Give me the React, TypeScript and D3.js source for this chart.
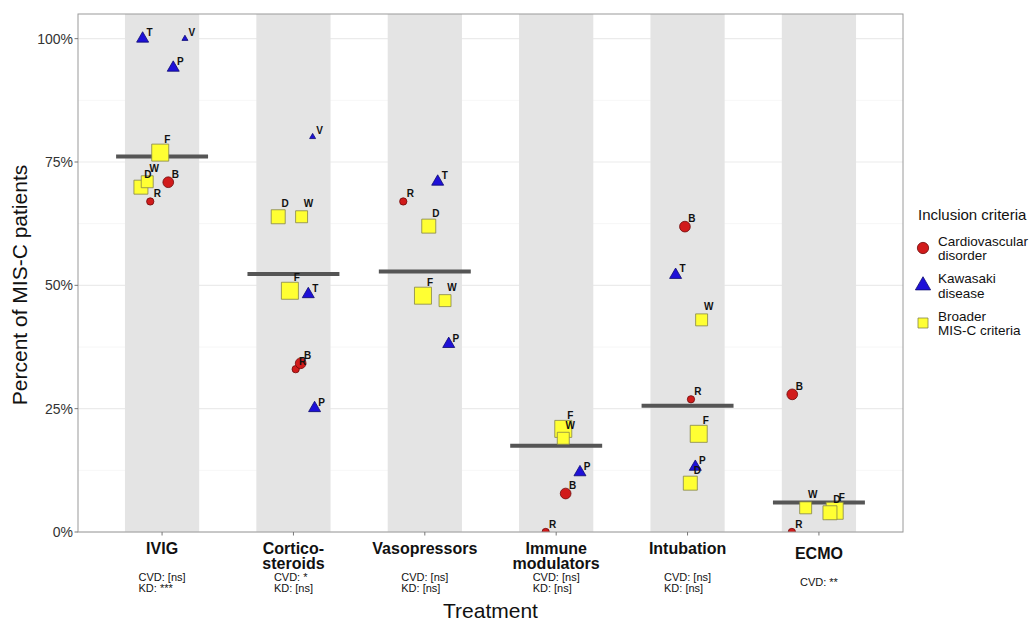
import React from "react";
import * as d3 from "d3";

// ---------- data ----------
const treatments = ["IVIG", "Corticosteroids", "Vasopressors", "Immune modulators", "Intubation", "ECMO"];
const treatmentLines = [["IVIG"], ["Cortico-", "steroids"], ["Vasopressors"], ["Immune", "modulators"], ["Intubation"], ["ECMO"]];
const testLines = [
  ["CVD: [ns]", "KD: ***"],
  ["CVD: *", "KD: [ns]"],
  ["CVD: [ns]", "KD: [ns]"],
  ["CVD: [ns]", "KD: [ns]"],
  ["CVD: [ns]", "KD: [ns]"],
  ["CVD: **"],
];
const pooledPercent = [76.1, 52.3, 52.8, 17.5, 25.6, 6.0];

const yTicks = [0, 25, 50, 75, 100];
const yMinorTicks = [12.5, 37.5, 62.5, 87.5];

const criteria = ["CVD", "KD", "Broader"];
const criteriaLabels = [["Cardiovascular", "disorder"], ["Kawasaki", "disease"], ["Broader", "MIS-C criteria"]];

const studyIds = ["F", "D", "W", "R", "B", "P", "T", "V"];
const studyCriteria = ["Broader", "Broader", "Broader", "CVD", "CVD", "KD", "KD", "KD"];
const studyPatients = [186, 126, 92, 27, 58, 40, 40, 10];

// percent of patients per treatment (order of `treatments`), null = not reported
const percentF = [76.9, 48.9, 47.9, 20.9, 19.9, 4.3];
const percentD = [69.9, 63.9, 62.0, null, 9.9, 3.9];
const percentW = [71.0, 63.9, 46.9, 19.0, 43.0, 4.9];
const percentR = [67.0, 33.0, 67.0, 0, 26.9, 0];
const percentB = [70.9, 34.2, null, 7.8, 61.9, 27.9];
const percentP = [94.1, 25.1, 38.1, 12.1, 13.2, null];
const percentT = [100, 48.2, 71.0, null, 52.1, null];
const percentV = [100, 80.1, null, null, null, null];
const percentByStudy = [percentF, percentD, percentW, percentR, percentB, percentP, percentT, percentV];

// horizontal jitter, in category steps
const jitterF = [-0.014, -0.027, -0.014, 0.054, 0.085, 0.12];
const jitterD = [-0.161, -0.116, 0.03, 0, 0.021, 0.084];
const jitterW = [-0.113, 0.062, 0.154, 0.054, 0.107, -0.101];
const jitterR = [-0.09, 0.017, -0.164, -0.08, 0.026, -0.206];
const jitterB = [0.047, 0.055, 0, 0.072, -0.02, -0.203];
const jitterP = [0.085, 0.161, 0.182, 0.181, 0.059, 0];
const jitterT = [-0.148, 0.113, 0.098, 0, -0.091, 0];
const jitterV = [0.174, 0.146, 0, 0, 0, 0];
const jitterByStudy = [jitterF, jitterD, jitterW, jitterR, jitterB, jitterP, jitterT, jitterV];

// ---------- layout / style ----------
const W = 1031;
const H = 621;
const P = { left: 78, right: 903, top: 14, bottom: 532 };
const FONT = "'Liberation Sans', Arial, Helvetica, sans-serif";

const fills: Record<string, string> = { CVD: "#d11b1b", KD: "#1e10d8", Broader: "#ffff33" };
const strokes: Record<string, string> = { CVD: "#6e0a0a", KD: "#0d0a70", Broader: "#85854a" };
const shapes: Record<string, any> = { CVD: d3.symbolCircle, KD: d3.symbolTriangle, Broader: d3.symbolSquare };
const labelDy: Record<string, number> = { CVD: -8, KD: -6, Broader: -13 };

export default function App() {
  const x = d3.scalePoint<string>().domain(treatments).range([P.left, P.right]).padding(0.64);
  const step = x.step();
  const y = d3.scaleLinear().domain([0, 105]).range([P.bottom, P.top]);
  const diam = d3.scaleSqrt().domain([0, 190]).range([0, 19.4]);
  const area = (n: number) => (Math.PI / 4) * diam(n) ** 2;

  const points: any[] = [];
  studyIds.forEach((id, si) => {
    const crit = studyCriteria[si];
    percentByStudy[si].forEach((v, ti) => {
      if (v === null || v === undefined) return;
      points.push({
        id,
        crit,
        cx: (x(treatments[ti]) as number) + jitterByStudy[si][ti] * step,
        cy: y(v),
        path: d3.symbol().type(shapes[crit]).size(area(studyPatients[si]))() as string,
      });
    });
  });

  const canvas = typeof document !== "undefined" ? document.createElement("canvas").getContext("2d") : null;
  const statFont = 11;
  const measure = (s: string) => {
    if (!canvas) return s.length * statFont * 0.5;
    canvas.font = `${statFont}px 'Liberation Sans', Arial, sans-serif`;
    return canvas.measureText(s).width;
  };

  return (
    <div style={{ position: "absolute", left: 0, top: 0 }}>
      <svg width={W} height={H} viewBox={`0 0 ${W} ${H}`} style={{ display: "block", background: "#fff" }} fontFamily={FONT}>
        <defs>
          <clipPath id="panel">
            <rect x={P.left} y={P.top} width={P.right - P.left} height={P.bottom - P.top} />
          </clipPath>
        </defs>
        <rect x={P.left} y={P.top} width={P.right - P.left} height={P.bottom - P.top} fill="#fff" />
        {/* grid */}
        {yMinorTicks.map((t) => (
          <line key={"m" + t} x1={P.left} x2={P.right} y1={y(t)} y2={y(t)} stroke="#f4f4f4" strokeWidth={0.8} />
        ))}
        {yTicks.map((t) => (
          <line key={"g" + t} x1={P.left} x2={P.right} y1={y(t)} y2={y(t)} stroke="#ebebeb" strokeWidth={1.1} />
        ))}
        {/* bands */}
        {treatments.map((t) => (
          <rect key={"b" + t} x={(x(t) as number) - 0.2825 * step} width={0.565 * step} y={P.top} height={P.bottom - P.top} fill="#e4e4e4" />
        ))}
        {/* pooled lines */}
        {treatments.map((t, i) => (
          <line key={"p" + t} x1={(x(t) as number) - 0.35 * step} x2={(x(t) as number) + 0.35 * step} y1={y(pooledPercent[i])} y2={y(pooledPercent[i])} stroke="#555555" strokeWidth={4} />
        ))}
        {/* points */}
        <g clipPath="url(#panel)">
          {points.map((p, i) => (
            <path key={"pt" + i} d={p.path} transform={`translate(${p.cx},${p.cy})`} fill={fills[p.crit]} stroke={strokes[p.crit]} strokeWidth={0.8} />
          ))}
        </g>
        {/* point labels */}
        {points.map((p, i) => (
          <text key={"lb" + i} x={p.cx + 7} y={p.cy + labelDy[p.crit]} dy="0.35em" textAnchor="middle" fontSize={10} fontWeight="bold" fill="#111">
            {p.id}
          </text>
        ))}
        {/* panel border */}
        <rect x={P.left} y={P.top} width={P.right - P.left} height={P.bottom - P.top} fill="none" stroke="#9a9a9a" strokeWidth={1} />
        {/* y axis */}
        {yTicks.map((t) => (
          <g key={"yt" + t}>
            <line x1={P.left - 3.5} x2={P.left} y1={y(t)} y2={y(t)} stroke="#777" />
            <text x={P.left - 5} y={y(t)} dy="0.35em" textAnchor="end" fontSize={14} fill="#333">
              {t + "%"}
            </text>
          </g>
        ))}
        <text transform={`translate(27,${(P.top + P.bottom) / 2 + 12}) rotate(-90)`} textAnchor="middle" fontSize={21} fill="#111">
          Percent of MIS-C patients
        </text>
        {/* x axis */}
        {treatments.map((t, i) => {
          const cx = x(t) as number;
          const shift = (2 - testLines[i].length) * 5.5;
          const w = Math.max(...testLines[i].map(measure));
          return (
            <g key={"xt" + t}>
              <line x1={cx} x2={cx} y1={P.bottom} y2={P.bottom + 3.5} stroke="#777" />
              {treatmentLines[i].map((s, j) => (
                <text key={j} x={cx} y={553.5 + shift + j * 15.5} textAnchor="middle" fontSize={16} fontWeight="bold" fill="#111">
                  {s}
                </text>
              ))}
              {testLines[i].map((s, j) => (
                <text key={"s" + j} x={cx - w / 2} y={580.5 + shift + j * 11.5} textAnchor="start" fontSize={statFont} fill="#111">
                  {s}
                </text>
              ))}
            </g>
          );
        })}
        <text x={(P.left + P.right) / 2} y={618} textAnchor="middle" fontSize={21} fill="#111">
          Treatment
        </text>
        {/* legend */}
        <text x={918} y={220} fontSize={15} fill="#111">
          Inclusion criteria
        </text>
        {criteria.map((c, i) => {
          const cy = 248 + i * 37.5;
          return (
            <g key={"lg" + c}>
              <path d={d3.symbol().type(shapes[c]).size(100)() as string} transform={`translate(923,${cy})`} fill={fills[c]} stroke={strokes[c]} strokeWidth={0.8} />
              {criteriaLabels[i].map((s, j) => (
                <text key={j} x={938} y={cy - 7 + j * 14.5} dy="0.35em" fontSize={13.5} fill="#111">
                  {s}
                </text>
              ))}
            </g>
          );
        })}
      </svg>
    </div>
  );
}
